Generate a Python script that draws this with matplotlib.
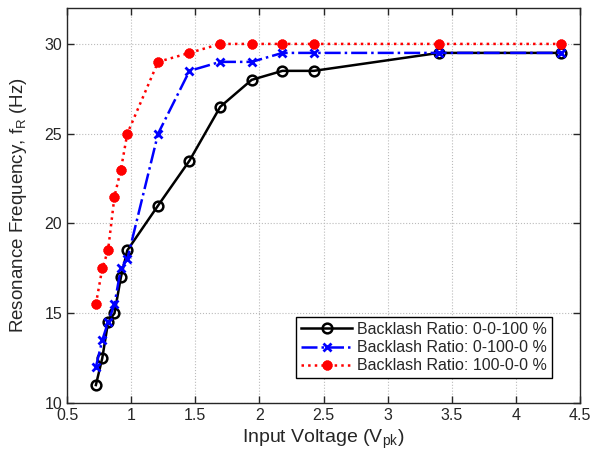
import matplotlib
matplotlib.use('Agg')
import matplotlib.pyplot as plt

plt.rcParams['font.family'] = ['Liberation Sans', 'DejaVu Sans']

# Input voltage (Vpk), shared by all three series
voltage = [0.725, 0.775, 0.82, 0.87, 0.92, 0.97, 1.21, 1.455, 1.695, 1.94, 2.18, 2.425, 3.40, 4.35]

# Resonance frequency (Hz)
freq_00100 = [11.0, 12.5, 14.5, 15.0, 17.0, 18.5, 21.0, 23.5, 26.5, 28.0, 28.5, 28.5, 29.5, 29.5]
freq_01000 = [12.0, 13.5, 14.5, 15.5, 17.5, 18.0, 25.0, 28.5, 29.0, 29.0, 29.5, 29.5, 29.5, 29.5]
freq_10000 = [15.5, 17.5, 18.5, 21.5, 23.0, 25.0, 29.0, 29.5, 30.0, 30.0, 30.0, 30.0, 30.0, 30.0]

labels = ['Backlash Ratio: 0-0-100 %', 'Backlash Ratio: 0-100-0 %', 'Backlash Ratio: 100-0-0 %']

txt = '#262626'

fig = plt.figure(figsize=(5.91, 4.66), dpi=100)
ax = fig.add_axes([0.1134, 0.1352, 0.868, 0.8476])

ax.plot(voltage, freq_00100, color='black', linestyle='-', linewidth=1.8,
        marker='o', markersize=7, markerfacecolor='none', markeredgewidth=1.8, label=labels[0])
ax.plot(voltage, freq_01000, color='blue', linestyle='-.', linewidth=1.8,
        marker='x', markersize=6, markeredgewidth=2, label=labels[1])
ax.plot(voltage, freq_10000, color='red', linestyle=':', linewidth=1.8,
        marker=(8, 2, 0), markersize=7, markeredgewidth=2.5, label=labels[2])

ax.set_xlim(0.5, 4.5)
ax.set_ylim(10, 32)
ax.set_xticks([0.5, 1, 1.5, 2, 2.5, 3, 3.5, 4, 4.5])
ax.set_xticklabels(['0.5', '1', '1.5', '2', '2.5', '3', '3.5', '4', '4.5'])
ax.set_yticks([10, 15, 20, 25, 30])
ax.tick_params(direction='in', top=True, right=True, labelsize=11.5, length=5, width=1,
               labelcolor=txt, color=txt)
ax.grid(True, linestyle=':', color='#bbbbbb', linewidth=0.8)
for s in ax.spines.values():
    s.set_linewidth(1.0)
    s.set_color(txt)

ax.set_xlabel('Input Voltage (V$_{\\mathregular{pk}}$)', fontsize=14, color=txt, labelpad=3)
ax.set_ylabel('Resonance Frequency, f$_{\\mathregular{R}}$ (Hz)', fontsize=13.5, color=txt, labelpad=11)

leg = ax.legend(loc='lower right', bbox_to_anchor=(0.945, 0.063), fontsize=11.5, fancybox=False,
                edgecolor='black', framealpha=1, borderaxespad=0, handlelength=3.2, borderpad=0.3,
                labelspacing=0.2, handletextpad=0.3)
leg.get_frame().set_linewidth(1.0)
for t in leg.get_texts():
    t.set_color(txt)

fig.savefig('out.png', dpi=100)
